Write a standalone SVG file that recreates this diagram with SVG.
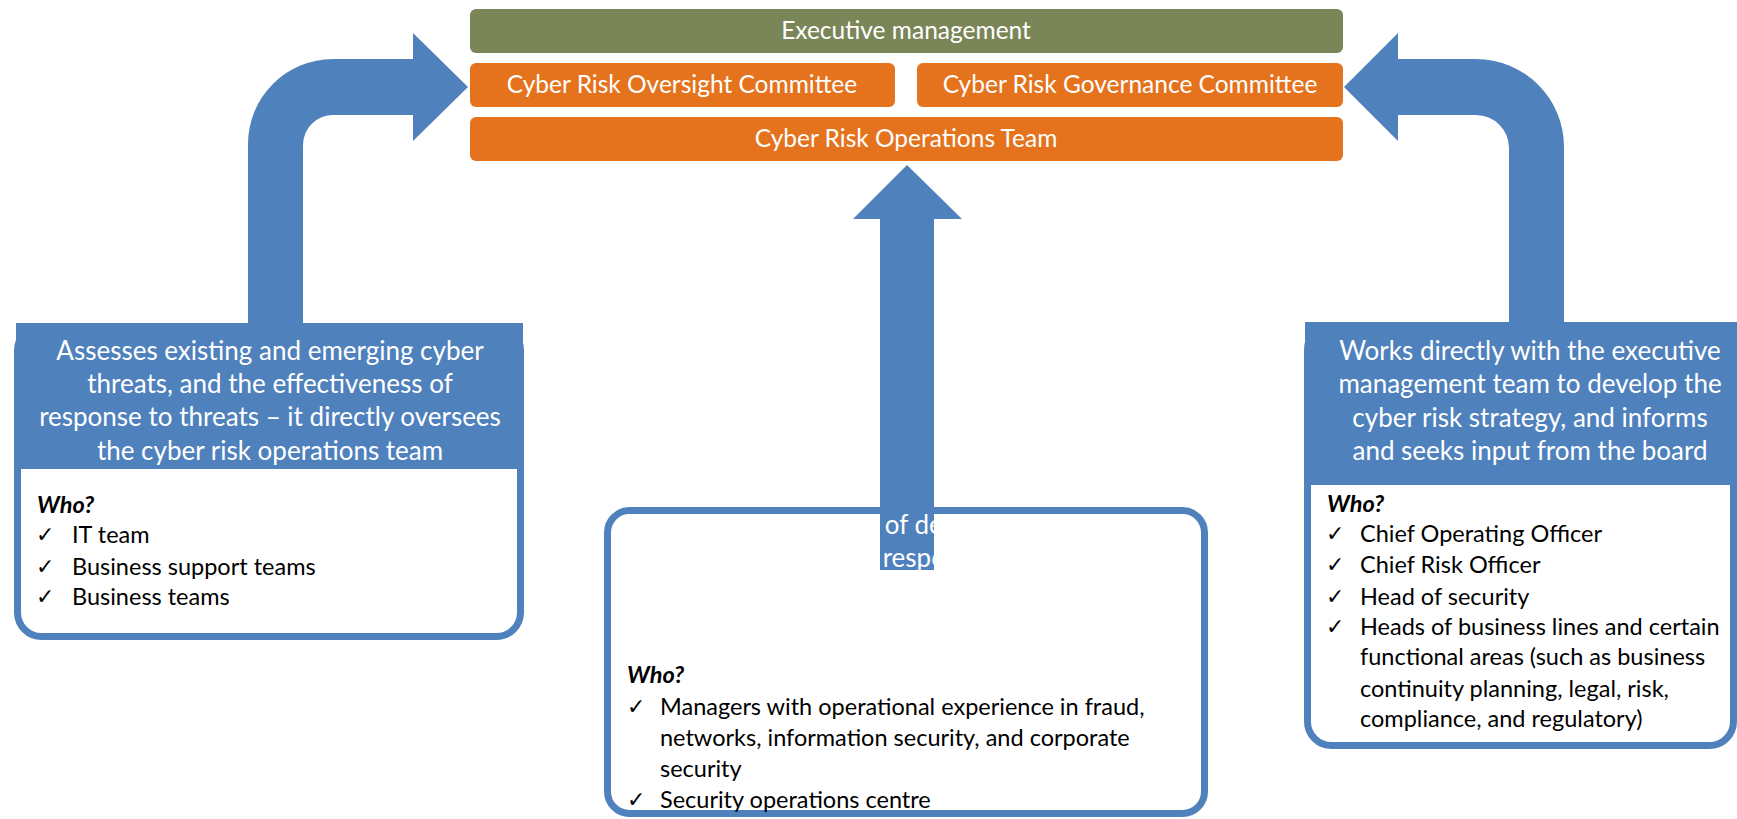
<svg xmlns="http://www.w3.org/2000/svg" width="1737" height="819" viewBox="0 0 1737 819">
<style>
.bg{fill:#ffffff}
.green{fill:#7A8558}
.orange{fill:#E5731D}
.blue{fill:#4F81BD}
.frame{fill:#ffffff;stroke:#4F81BD;stroke-width:7}
.t{font-family:Lato,"Liberation Sans",sans-serif;fill:#ffffff;text-anchor:middle}
.top{font-size:24.5px}
.hd{font-size:26px}
.who{font-family:Lato,"Liberation Sans",sans-serif;font-size:23.5px;font-weight:bold;font-style:italic;fill:#000000}
.it{font-family:Lato,"Liberation Sans",sans-serif;font-size:23.5px;fill:#000000}
.ck{font-family:"DejaVu Sans",sans-serif;font-size:22px;fill:#000000}
</style>
<rect class="bg" x="0" y="0" width="1737" height="819"/>

<g id="executive-management">
<rect class="green" x="470" y="9" width="873" height="44" rx="6"/>
<text class="t top" x="906" y="39">Executive management</text>
</g>
<g id="oversight-committee">
<rect class="orange" x="470" y="63" width="425" height="44" rx="6"/>
<text class="t top" x="682" y="93">Cyber Risk Oversight Committee</text>
</g>
<g id="governance-committee">
<rect class="orange" x="917" y="63" width="426" height="44" rx="6"/>
<text class="t top" x="1130" y="93">Cyber Risk Governance Committee</text>
</g>
<g id="operations-team">
<rect class="orange" x="470" y="117" width="873" height="44" rx="6"/>
<text class="t top" x="906" y="147">Cyber Risk Operations Team</text>
</g>

<g id="middle-box-frame">
<rect class="frame" x="607.5" y="510.5" width="597" height="303" rx="22"/>
</g>

<g id="connectors">
<path class="blue" d="M248,330 L248,144 A85,85 0 0 1 333,59 L413,59 L413,33 L468,87 L413,141 L413,115 L333,115 A30,30 0 0 0 303,145 L303,330 Z"/>
<path class="blue" d="M1344,87 L1398,33 L1398,59 L1476,59 A88,88 0 0 1 1564,147 L1564,330 L1509,330 L1509,148 A33,33 0 0 0 1476,115 L1398,115 L1398,141 Z"/>
<path class="blue" d="M907,165 L962,219 L934,219 L934,570 L880,570 L880,219 L853,219 Z"/>
</g>

<g id="oversight-box">
<rect class="frame" x="17.5" y="326.5" width="503" height="310" rx="24"/>
<rect class="blue" x="16" y="323" width="507" height="146"/>
<text class="t hd" x="270" y="360">Assesses existing and emerging cyber</text>
<text class="t hd" x="270" y="393">threats, and the effectiveness of</text>
<text class="t hd" x="270" y="426">response to threats – it directly oversees</text>
<text class="t hd" x="270" y="460">the cyber risk operations team</text>
<text class="who" x="37" y="513">Who?</text>
<text class="ck" x="36" y="542">✓</text><text class="it" x="72" y="543">IT team</text>
<text class="ck" x="36" y="574">✓</text><text class="it" x="72" y="575">Business support teams</text>
<text class="ck" x="36" y="604">✓</text><text class="it" x="72" y="605">Business teams</text>
</g>

<g id="governance-box">
<rect class="frame" x="1307.5" y="325.5" width="426" height="420" rx="24"/>
<rect class="blue" x="1305" y="322" width="432" height="163"/>
<text class="t hd" x="1530" y="360">Works directly with the executive</text>
<text class="t hd" x="1530" y="393">management team to develop the</text>
<text class="t hd" x="1530" y="427">cyber risk strategy, and informs</text>
<text class="t hd" x="1530" y="460">and seeks input from the board</text>
<text class="who" x="1327" y="512">Who?</text>
<text class="ck" x="1326" y="541">✓</text><text class="it" x="1360" y="542">Chief Operating Officer</text>
<text class="ck" x="1326" y="572">✓</text><text class="it" x="1360" y="573">Chief Risk Officer</text>
<text class="ck" x="1326" y="604">✓</text><text class="it" x="1360" y="605">Head of security</text>
<text class="ck" x="1326" y="634">✓</text><text class="it" x="1360" y="635">Heads of business lines and certain</text>
<text class="it" x="1360" y="665">functional areas (such as business</text>
<text class="it" x="1360" y="697">continuity planning, legal, risk,</text>
<text class="it" x="1360" y="727">compliance, and regulatory)</text>
</g>

<g id="operations-box">
<text class="t hd" x="896" y="534">Serves as the first line of defence against cyber</text>
<text class="t hd" x="904" y="567">threats – detects and responds to cyber threats</text>
<text class="t hd" x="906" y="600">in real time, and reports to both the cyber risk</text>
<text class="t hd" x="906" y="633">governance and cyber risk oversight committees</text>
<text class="who" x="627" y="683">Who?</text>
<text class="ck" x="627" y="714">✓</text><text class="it" x="660" y="715">Managers with operational experience in fraud,</text>
<text class="it" x="660" y="746">networks, information security, and corporate</text>
<text class="it" x="660" y="777">security</text>
<text class="ck" x="627" y="807">✓</text><text class="it" x="660" y="808">Security operations centre</text>
</g>
</svg>
